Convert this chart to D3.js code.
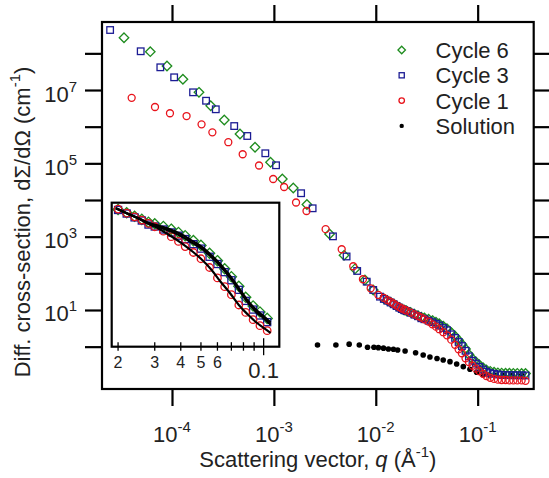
<!DOCTYPE html>
<html><head><meta charset="utf-8">
<script src="https://cdn.jsdelivr.net/npm/d3@7"></script>
<style>
body{margin:0;background:#fff;}
svg{display:block;font-family:"Liberation Sans",Arial,Helvetica,sans-serif;}
</style>
</head><body>
<svg id="c" width="549" height="478"></svg>
<script>
// ---------- data (q in 1/Å, dΣ/dΩ in 1/cm) ----------
const qCycle6 = [3.38e-5,6.12e-5,8.93e-5,1.28e-4,1.84e-4,2.40e-4,3.26e-4,4.65e-4,6.53e-4,9.27e-4,1.21e-3,1.55e-3,2.11e-3,3.52e-3,4.88e-3,6.25e-3,7.83e-3,9.44e-3];
const iCycle6 = [2.67e8,1.11e8,4.51e7,1.96e7,8.65e6,3.73e6,1.52e6,6.31e5,2.74e5,1.07e5,3.74e4,2.12e4,7.55e3,1.18e3,310,132,65.9,35.2];
const qCycle3 = [2.47e-5,4.93e-5,7.68e-5,1.05e-4,1.61e-4,2.16e-4,2.69e-4,4.08e-4,5.48e-4,8.24e-4,1.05e-3,1.85e-3,2.40e-3,3.80e-3,5.17e-3,6.57e-3,8.15e-3,9.44e-3,1.10e-2];
const iCycle3 = [4.33e8,1.14e8,4.16e7,2.22e7,8.65e6,5.1e6,2.98e6,1.04e6,5.57e5,1.88e5,8.85e4,1.53e4,5.94e3,1.02e3,288,116,59.2,35.2,23.1];
const qCycle1 = [4.02e-5,6.81e-5,9.55e-5,1.39e-4,1.95e-4,2.49e-4,3.57e-4,4.94e-4,7.15e-4,9.84e-4,1.26e-3,1.65e-3,2.09e-3,3.22e-3,4.63e-3,6.01e-3,7.48e-3,8.91e-3,1.06e-2];
const iCycle1 = [6.12e6,3.44e6,2.32e6,1.95e6,1.16e6,7.01e5,3.77e5,1.77e5,8.73e4,3.74e4,2.26e4,8.55e3,5.01e3,1.60e3,453,156,68.9,39.1,25.7];

// SANS range (shared q grid)
const qSans = [0.012,0.013,0.014,0.015,0.016,0.017,0.018,0.019,0.020,0.022,0.024,0.026,0.028,0.030,0.033,0.036,0.039,0.042,0.046,0.050,0.055,0.060,0.065,0.070,0.076,0.082,0.089,0.096,0.104,0.113,0.122,0.133,0.145,0.158,0.172,0.188,0.205,0.224,0.245,0.270,0.295];
const iSansCycle6 = [20.4,18.2,16.2,14.5,12.9,11.7,10.7,10.0,9.55,8.6,7.7,7.0,6.4,6.1,5.6,5.15,4.65,4.2,3.6,3.1,2.42,1.92,1.49,1.16,0.86,0.61,0.465,0.385,0.315,0.265,0.232,0.212,0.200,0.193,0.190,0.189,0.188,0.187,0.187,0.186,0.185];
const iSansCycle3 = [20.0,17.9,16.0,14.3,12.8,11.6,10.6,9.9,9.4,8.4,7.45,6.75,5.95,5.6,5.1,4.65,4.2,3.78,3.22,2.8,2.17,1.73,1.34,1.04,0.77,0.545,0.415,0.345,0.28,0.238,0.207,0.19,0.181,0.174,0.170,0.168,0.167,0.166,0.166,0.165,0.164];
const iSansCycle1 = [21.4,18.6,16.6,14.8,13.2,12.0,11.0,10.2,9.66,8.51,7.59,6.84,6.17,5.56,4.84,4.07,3.51,2.99,2.48,2.04,1.55,1.12,0.851,0.661,0.479,0.380,0.302,0.251,0.214,0.182,0.158,0.141,0.132,0.126,0.123,0.123,0.120,0.120,0.120,0.120,0.117];

const qSolution = [2.68e-3,4.06e-3,5.48e-3,6.89e-3,8.30e-3,9.59e-3,1.06e-2,1.19e-2,1.33e-2,1.49e-2,1.64e-2,1.94e-2,2.46e-2,2.92e-2,3.40e-2,3.99e-2,4.59e-2,5.35e-2,6.22e-2,7.23e-2,8.40e-2,9.77e-2,0.1135,0.13,0.15,0.18,0.22,0.27];
const iSolution = [1.11,1.11,1.17,1.11,0.962,0.962,0.94,0.91,0.865,0.849,0.813,0.762,0.685,0.593,0.524,0.476,0.434,0.390,0.337,0.285,0.242,0.201,0.172,0.168,0.166,0.165,0.165,0.165];

// model fits shown in the inset
const qFit = [0.0195,0.022,0.025,0.028,0.032,0.036,0.040,0.045,0.050,0.056,0.062,0.069,0.076,0.084,0.092,0.100,0.108];
const fitCycle6 = [9.9,8.5,7.3,6.3,5.65,5.05,4.42,3.63,3.02,2.29,1.72,1.19,0.82,0.55,0.412,0.338,0.276];
const fitCycle3 = [9.9,8.5,7.2,6.05,5.38,4.78,4.15,3.41,2.84,2.15,1.61,1.12,0.77,0.515,0.386,0.317,0.258];
const fitCycle1 = [9.9,8.5,7.24,6.17,5.07,4.12,3.39,2.63,2.04,1.46,1.0,0.692,0.479,0.355,0.279,0.234,0.200];

const xTickExps = [-4,-3,-2,-1];
const yTickExps = [0,1,2,3,4,5,6,7,8];
const yLabelExps = [1,3,5,7];
const insetTicks = [0.02,0.03,0.04,0.05,0.06,0.07,0.08,0.09,0.1];
const insetLabels = {0.02:"2",0.03:"3",0.04:"4",0.05:"5",0.06:"6"};
const legendNames = ["Cycle 6","Cycle 3","Cycle 1","Solution"];

// ---------- styles ----------
const C6 = "#1e8c1e", C3 = "#1c1c94", C1 = "#e8141c", CS = "#000";

const svg = d3.select("#c");
const L=102, T=22, R=533.7, B=389;
const x = d3.scaleLog().domain([Math.pow(10,-4.687),Math.pow(10,-0.45)]).range([L,R]);
const y = d3.scaleLog().domain([Math.pow(10,-1.155),Math.pow(10,8.855)]).range([B,T]);

function zip(qs, is){ return qs.map((q,k)=>({q:q, v:is[k]})); }
const d6 = zip(qCycle6,iCycle6).concat(zip(qSans,iSansCycle6));
const d3s = zip(qCycle3,iCycle3).concat(zip(qSans,iSansCycle3));
const d1 = zip(qCycle1,iCycle1).concat(zip(qSans,iSansCycle1));
const dS = zip(qSolution,iSolution);

function supText(g, base, exp, fs, sfs, sdy){
  const t = g.append("text").attr("font-size",fs).attr("fill","#222");
  t.append("tspan").text(base);
  t.append("tspan").attr("font-size",sfs).attr("dy",sdy).text(exp);
  return t;
}

function drawMarkers(g, data, kind, color, sx, sy, s){
  const sel = g.selectAll(null).data(data).enter();
  if(kind==="diamond"){
    const r = s*0.68;
    sel.append("path").attr("d",d=>{const cx=sx(d.q),cy=sy(d.v);return `M${cx},${cy-r}L${cx+r},${cy}L${cx},${cy+r}L${cx-r},${cy}Z`;})
      .attr("fill","none").attr("stroke",color).attr("stroke-width",1.3);
  } else if(kind==="square"){
    const h = s*0.47;
    sel.append("rect").attr("x",d=>sx(d.q)-h).attr("y",d=>sy(d.v)-h).attr("width",2*h).attr("height",2*h)
      .attr("fill","none").attr("stroke",color).attr("stroke-width",1.3);
  } else if(kind==="circle"){
    sel.append("circle").attr("cx",d=>sx(d.q)).attr("cy",d=>sy(d.v)).attr("r",s*0.5)
      .attr("fill","none").attr("stroke",color).attr("stroke-width",1.3);
  } else {
    sel.append("circle").attr("cx",d=>sx(d.q)).attr("cy",d=>sy(d.v)).attr("r",s*0.4)
      .attr("fill",color);
  }
}

// ---------- main axes ----------
const xb = svg.append("g").attr("transform",`translate(0,${B})`)
  .call(d3.axisBottom(x).tickValues(xTickExps.map(e=>Math.pow(10,e))).tickSize(17).tickFormat(""));
const xt = svg.append("g").attr("transform",`translate(0,${T})`)
  .call(d3.axisTop(x).tickValues(xTickExps.map(e=>Math.pow(10,e))).tickSize(17).tickFormat(""));
const yl = svg.append("g").attr("transform",`translate(${L},0)`)
  .call(d3.axisLeft(y).tickValues(yTickExps.map(e=>Math.pow(10,e))).tickSize(17).tickFormat(""));
const yr = svg.append("g").attr("transform",`translate(${R},0)`)
  .call(d3.axisRight(y).tickValues(yTickExps.map(e=>Math.pow(10,e))).tickSize(17).tickFormat(""));
[xb,xt,yl,yr].forEach(a=>{
  a.select(".domain").remove();
  a.selectAll(".tick line").attr("stroke","#000").attr("stroke-width",2.2);
});

xTickExps.forEach(e=>{
  const g = svg.append("g").attr("transform",`translate(${x(Math.pow(10,e))},442)`);
  supText(g,"10",String(e),22,15,-10).attr("text-anchor","middle");
});
yLabelExps.forEach(e=>{
  const g = svg.append("g").attr("transform",`translate(77,${y(Math.pow(10,e))+11.5})`);
  supText(g,"10",String(e),22,15,-10).attr("text-anchor","end");
});

// data
const gData = svg.append("g");
drawMarkers(gData, dS, "dot", CS, x, y, 7);
drawMarkers(gData, d6, "diamond", C6, x, y, 7);
drawMarkers(gData, d3s, "square", C3, x, y, 7);
drawMarkers(gData, d1, "circle", C1, x, y, 7);

// frame
svg.append("rect").attr("x",L).attr("y",T).attr("width",R-L).attr("height",B-T)
  .attr("fill","none").attr("stroke","#000").attr("stroke-width",2.2);

// axis titles
const xtitle = svg.append("text").attr("x",(L+R)/2).attr("y",466.5).attr("text-anchor","middle").attr("font-size",22).attr("fill","#222");
xtitle.append("tspan").text("Scattering vector, ");
xtitle.append("tspan").attr("font-style","italic").text("q");
xtitle.append("tspan").text(" (Å");
xtitle.append("tspan").attr("font-size",15).attr("dy",-10).text("-1");
xtitle.append("tspan").attr("dy",10).text(")");

const ytitle = svg.append("text").attr("transform","translate(30,222) rotate(-90)").attr("text-anchor","middle").attr("font-size",22).attr("fill","#222");
ytitle.append("tspan").text("Diff. cross-section, dΣ/dΩ (cm");
ytitle.append("tspan").attr("font-size",15).attr("dy",-10).text("-1");
ytitle.append("tspan").attr("dy",10).text(")");

// legend
const legKinds = ["diamond","square","circle","dot"];
const legColors = [C6,C3,C1,CS];
legendNames.forEach((name,k)=>{
  const cy = 50 + k*25.3;
  const gl = svg.append("g");
  drawMarkers(gl,[{q:0,v:0}],legKinds[k],legColors[k],()=>401.7,()=>cy,5.5);
  svg.append("text").attr("x",435.5).attr("y",cy+8).attr("font-size",22).attr("fill","#222").text(name);
});

// ---------- inset ----------
const iL=111.7, iT=202.7, iR=279.3, iB=346.7;
const xi = d3.scaleLog().domain([0.01864,0.1189]).range([iL,iR]);
const yi = d3.scaleLog().domain([Math.pow(10,-0.887),Math.pow(10,1.072)]).range([iB,iT]);
const gi = svg.append("g");
gi.append("rect").attr("x",iL).attr("y",iT).attr("width",iR-iL).attr("height",iB-iT).attr("fill","#fff");
svg.append("clipPath").attr("id","ic").append("rect").attr("x",iL).attr("y",iT).attr("width",iR-iL).attr("height",iB-iT);
const gid = gi.append("g").attr("clip-path","url(#ic)");
const inR = d=>d.q>=0.0195 && d.q<=0.112;
drawMarkers(gid, d6.filter(inR), "diamond", C6, xi, yi, 7.5);
drawMarkers(gid, d3s.filter(inR), "square", C3, xi, yi, 7.5);
drawMarkers(gid, d1.filter(inR), "circle", C1, xi, yi, 7.5);
const line = d3.line().x(d=>xi(d.q)).y(d=>yi(d.v)).curve(d3.curveMonotoneX);
[fitCycle6,fitCycle3,fitCycle1].forEach(f=>{
  gid.append("path").datum(zip(qFit,f)).attr("d",line).attr("fill","none").attr("stroke","#000").attr("stroke-width",2.2);
});
gi.append("rect").attr("x",iL).attr("y",iT).attr("width",iR-iL).attr("height",iB-iT)
  .attr("fill","none").attr("stroke","#000").attr("stroke-width",2.2);
insetTicks.forEach(t=>{
  const major = Math.abs(t-0.1)<1e-9;
  gi.append("line").attr("x1",xi(t)).attr("x2",xi(t)).attr("y1",iB-(major?8.5:4.5)).attr("y2",iB+(major?8.5:4))
    .attr("stroke","#000").attr("stroke-width",1.3);
  if(insetLabels[t]) gi.append("text").attr("x",xi(t)).attr("y",368).attr("text-anchor","middle").attr("font-size",16).attr("fill","#222").text(insetLabels[t]);
});
gi.append("text").attr("x",xi(0.1)).attr("y",378).attr("text-anchor","middle").attr("font-size",22).attr("fill","#222").text("0.1");
</script>
</body></html>
